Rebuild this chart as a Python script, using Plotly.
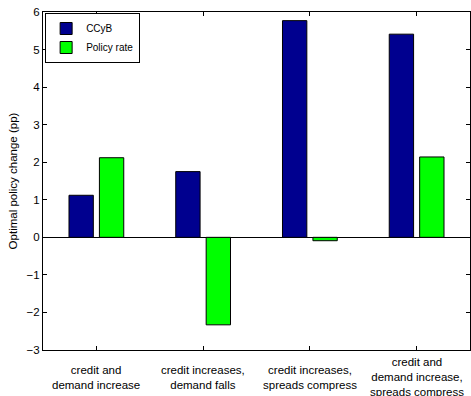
import plotly.graph_objects as go

categories = ["credit and<br>demand increase",
              "credit increases,<br>demand falls",
              "credit increases,<br>spreads compress",
              "credit and<br>demand increase,<br>spreads compress"]
ccyb = [1.12, 1.75, 5.77, 5.41]
policy_rate = [2.12, -2.33, -0.09, 2.14]
y_ticks = [-3, -2, -1, 0, 1, 2, 3, 4, 5, 6]
y_tick_labels = ["\u22123", "\u22122", "\u22121", "0", "1", "2", "3", "4", "5", "6"]

FONT = "Liberation Sans, Arial, Helvetica, sans-serif"

fig = go.Figure()
fig.add_trace(go.Bar(x=categories, y=ccyb, name="CCyB",
                     marker=dict(color="#00008F", line=dict(color="black", width=1))))
fig.add_trace(go.Bar(x=categories, y=policy_rate, name="Policy rate",
                     marker=dict(color="#00FF00", line=dict(color="black", width=1))))

for c in categories:
    fig.add_annotation(x=c, xref="x", y=-0.08, yref="paper", text=c,
                       showarrow=False, yanchor="middle", xanchor="center",
                       font=dict(size=11.5, color="black", family=FONT))

fig.update_layout(
    width=471, height=396,
    margin=dict(l=43, r=1, t=12, b=46),
    paper_bgcolor="white", plot_bgcolor="white",
    barmode="group", bargap=0.43, bargroupgap=0.2,
    font=dict(family=FONT, size=11.5, color="black"),
    showlegend=True,
    legend=dict(x=0.005, y=0.997, xanchor="left", yanchor="top",
                bgcolor="white", bordercolor="black", borderwidth=1,
                font=dict(size=10, color="black"), tracegroupgap=0,
                itemwidth=30),
    xaxis=dict(range=[-0.5, 3.5], showticklabels=False, ticks="inside", ticklen=4,
               showline=True, linecolor="black", linewidth=1, mirror="ticks",
               showgrid=False, tickcolor="black"),
    yaxis=dict(range=[-3, 6], tickvals=y_ticks, ticktext=y_tick_labels,
               ticks="inside", ticklen=4, tickcolor="black",
               showline=True, linecolor="black", linewidth=1, mirror="ticks",
               showgrid=False, zeroline=True, zerolinecolor="black", zerolinewidth=1,
               title=dict(text="Optimal policy change (pp)", standoff=6,
                          font=dict(size=11.5))),
)

fig.write_html("out.html")
